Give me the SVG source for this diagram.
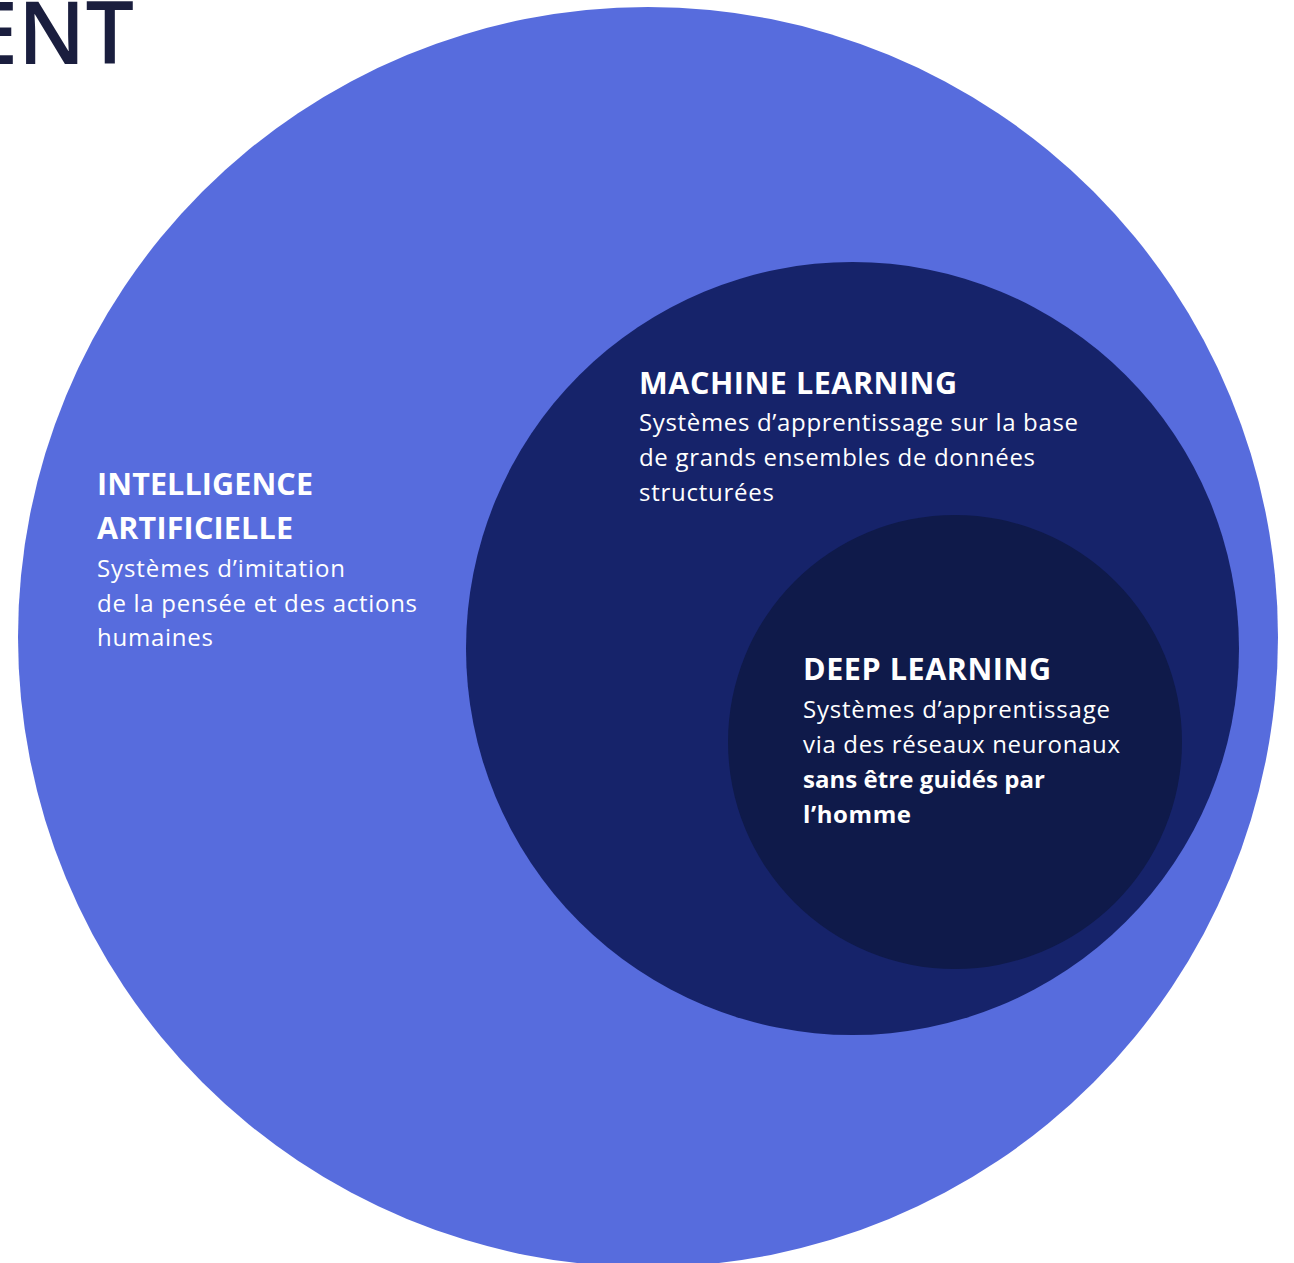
<svg xmlns="http://www.w3.org/2000/svg" width="1294" height="1263" viewBox="0 0 1294 1263">
<style>
  .t { font-family: "Open Sans", "Liberation Sans", sans-serif; fill: #ffffff; }
  .h { font-weight: 700; font-size: 30.5px; }
  .b { font-weight: 400; font-size: 24px; }
  .bb { font-weight: 700; font-size: 24px; }
</style>
<rect x="0" y="0" width="1294" height="1263" fill="#ffffff"/>
<text x="134" y="64" text-anchor="end" font-family="Open Sans, Liberation Sans, sans-serif" font-weight="600" font-size="86" fill="#1a1e3e">ENT</text>
<g id="ai">
  <circle cx="648" cy="637" r="630" fill="#576cdd"/>
  <text class="t h" x="97" y="495" textLength="216">INTELLIGENCE</text>
  <text class="t h" x="97" y="539" textLength="196">ARTIFICIELLE</text>
  <text class="t b" x="97" y="577" textLength="248">Systèmes d’imitation</text>
  <text class="t b" x="97" y="612" textLength="320">de la pensée et des actions</text>
  <text class="t b" x="97" y="646" textLength="116">humaines</text>
</g>
<g id="ml">
  <circle cx="852.5" cy="648.5" r="386.5" fill="#16236a"/>
  <text class="t h" x="639" y="394" textLength="318">MACHINE LEARNING</text>
  <text class="t b" x="639" y="431" textLength="439">Systèmes d’apprentissage sur la base</text>
  <text class="t b" x="639" y="466" textLength="396">de grands ensembles de données</text>
  <text class="t b" x="639" y="501" textLength="135">structurées</text>
</g>
<g id="dl">
  <circle cx="955" cy="742" r="227" fill="#0f1a4a"/>
  <text class="t h" x="803" y="680" textLength="248">DEEP LEARNING</text>
  <text class="t b" x="803" y="718" textLength="307">Systèmes d’apprentissage</text>
  <text class="t b" x="803" y="753" textLength="317">via des réseaux neuronaux</text>
  <text class="t bb" x="803" y="788" textLength="242">sans être guidés par</text>
  <text class="t bb" x="803" y="823" textLength="108">l’homme</text>
</g>
</svg>
